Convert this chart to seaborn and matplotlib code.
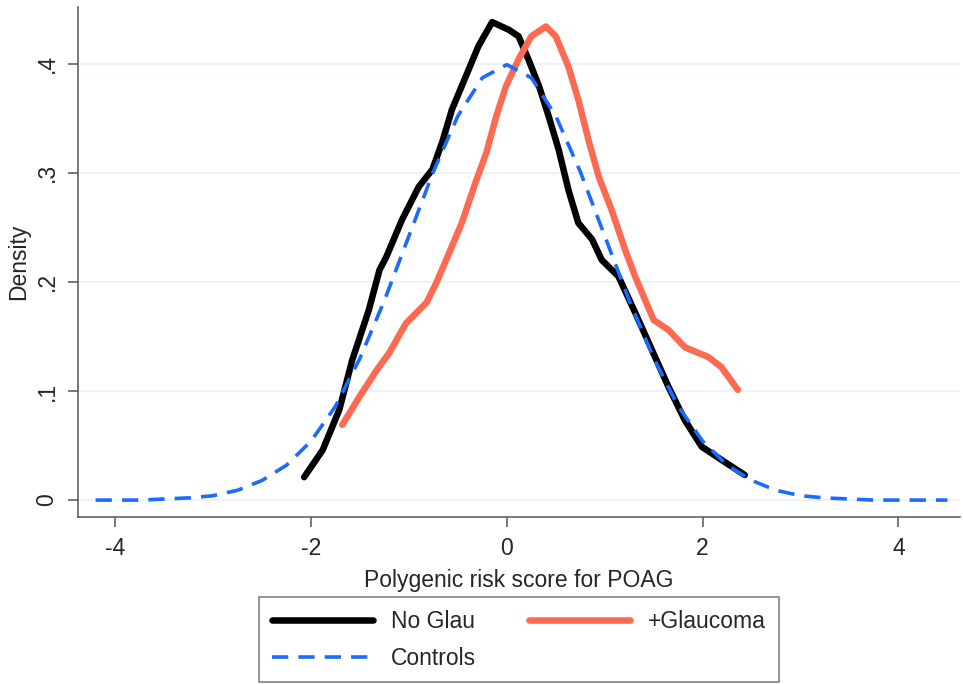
import matplotlib
matplotlib.use("Agg")
import matplotlib.pyplot as plt
import pandas as pd
import numpy as np
import seaborn as sns

# values
noglau_x = [-2.07, -1.88, -1.71, -1.58, -1.41, -1.30, -1.23, -1.07, -0.90, -0.76, -0.66, -0.56,
            -0.42, -0.29, -0.15, 0.02, 0.12, 0.22, 0.33, 0.43, 0.53, 0.63, 0.73, 0.87, 0.97,
            1.14, 1.31, 1.48, 1.65, 1.82, 1.99, 2.19, 2.43]
noglau_y = [0.021, 0.046, 0.083, 0.128, 0.174, 0.211, 0.223, 0.257, 0.287, 0.303, 0.328, 0.358,
            0.388, 0.416, 0.438, 0.431, 0.425, 0.404, 0.379, 0.351, 0.321, 0.284, 0.254, 0.239, 0.220,
            0.205, 0.172, 0.138, 0.104, 0.073, 0.049, 0.037, 0.023]

glauc_x = [-1.68, -1.51, -1.33, -1.20, -1.03, -0.82, -0.72, -0.62, -0.46, -0.32, -0.21, -0.11,
           -0.01, 0.12, 0.25, 0.40, 0.50, 0.63, 0.73, 0.84, 0.94, 1.07, 1.21, 1.31, 1.50,
           1.65, 1.82, 2.06, 2.19, 2.36]
glauc_y = [0.069, 0.094, 0.119, 0.135, 0.162, 0.181, 0.199, 0.220, 0.254, 0.291, 0.318, 0.351,
           0.379, 0.404, 0.425, 0.434, 0.425, 0.397, 0.367, 0.328, 0.296, 0.266, 0.229, 0.205, 0.165,
           0.156, 0.140, 0.131, 0.122, 0.101]

ctrl_x = [-4.2, -4.0, -3.75, -3.5, -3.25, -3.0, -2.75, -2.5, -2.25, -2.0, -1.75, -1.5, -1.25,
          -1.0, -0.75, -0.5, -0.25, 0.0, 0.25, 0.5, 0.75, 1.0, 1.25, 1.5, 1.75, 2.0, 2.25,
          2.5, 2.75, 3.0, 3.25, 3.5, 3.75, 4.0, 4.25, 4.5]
ctrl_y = [0.000, 0.000, 0.000, 0.001, 0.002, 0.004, 0.009, 0.018, 0.032, 0.054, 0.086, 0.130, 0.183,
          0.242, 0.301, 0.352, 0.387, 0.399, 0.387, 0.352, 0.301, 0.242, 0.183, 0.130, 0.086, 0.054, 0.032,
          0.018, 0.009, 0.004, 0.002, 0.001, 0.000, 0.000, 0.000, 0.000]

x_ticks = [-4, -2, 0, 2, 4]
y_ticks = [0, 0.1, 0.2, 0.3, 0.4]
y_ticklabels = ['0', '.1', '.2', '.3', '.4']

sns.set_style("white")
plt.rcParams['font.family'] = ['Liberation Sans', 'DejaVu Sans']
fs = 16.5

fig = plt.figure(figsize=(9.63, 6.84), dpi=100)
ax = fig.add_axes([0.081, 0.244, 0.916, 0.746])

grid_col = '#e9f1f4'
for yv in y_ticks:
    ax.axhline(yv, color=grid_col, lw=1.2, zorder=0)

df_ng = pd.DataFrame({'x': noglau_x, 'y': noglau_y})
df_gl = pd.DataFrame({'x': glauc_x, 'y': glauc_y})
df_ct = pd.DataFrame({'x': ctrl_x, 'y': ctrl_y})

sns.lineplot(data=df_ng, x='x', y='y', ax=ax, color='black', lw=4.7, sort=False,
             label='No Glau', solid_capstyle='round', zorder=3)
sns.lineplot(data=df_gl, x='x', y='y', ax=ax, color='#fc6a52', lw=4.7, sort=False,
             label='+Glaucoma', solid_capstyle='round', zorder=3)
sns.lineplot(data=df_ct, x='x', y='y', ax=ax, color='#1a6bff', lw=2.6, sort=False,
             label='Controls', zorder=4)
ax.lines[-1].set_dashes((4.5, 2.8))

ax.set_xlim(-4.38, 4.63)
ax.set_ylim(-0.0156, 0.452)
ax.set_xticks(x_ticks)
ax.set_xticklabels([str(v) for v in x_ticks])
ax.set_yticks(y_ticks)
ax.set_yticklabels(y_ticklabels, rotation=90, va='center')

for s in ['top', 'right']:
    ax.spines[s].set_visible(False)
for s in ['left', 'bottom']:
    ax.spines[s].set_color('#555555')
    ax.spines[s].set_linewidth(1.1)
ax.tick_params(axis='both', direction='out', length=7, width=1.1, color='#555555',
               labelsize=fs, pad=7, left=True, bottom=True)

ax.set_xlabel('Polygenic risk score for POAG', fontsize=fs, labelpad=7)
ax.set_ylabel('Density', fontsize=fs, labelpad=4)

h, l = ax.get_legend_handles_labels()
order = [0, 2, 1]
leg = ax.legend([h[i] for i in order], [l[i] for i in order], ncol=2, loc='upper center',
                bbox_to_anchor=(0.5, -0.157), fontsize=fs, frameon=True, fancybox=False,
                edgecolor='#555555', handlelength=4.4, columnspacing=2.3, handletextpad=0.8,
                borderpad=0.55, labelspacing=0.6, borderaxespad=0.0)
leg.get_frame().set_linewidth(1.1)

plt.savefig('out.png', dpi=100)
